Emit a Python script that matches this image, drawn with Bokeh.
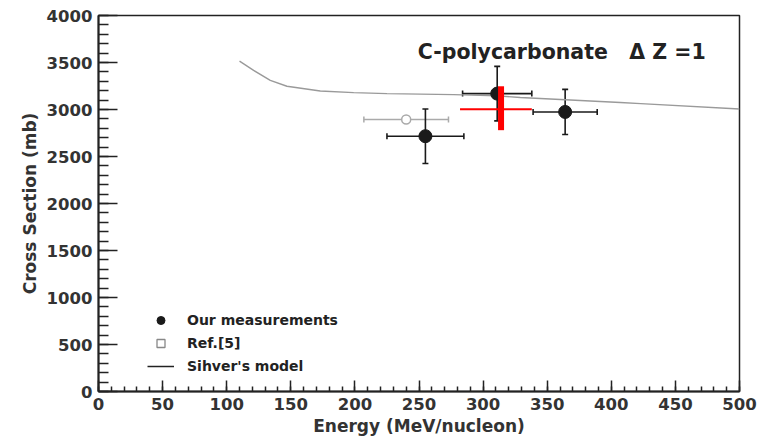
from bokeh.plotting import figure
from bokeh.models import (ColumnDataSource, Whisker, TeeHead, SingleIntervalTicker,
                          Legend, LegendItem, Label, Range1d)
from bokeh.embed import file_html
from bokeh.resources import INLINE

# ---- data ----
our_energy = [255, 311, 364]
our_cs = [2716, 3169, 2974]
our_xerr = [30, 27, 25]
our_yerr = [290, 290, 240]

ref_energy = [240]
ref_cs = [2893]
ref_xerr = [33]
ref_yerr = [40]

red_energy = [310]
red_cs = [3003]
red_xerr = [28]
red_vert_energy = [314]
red_vert_lo = [2780]
red_vert_hi = [3247]

model_energy = [110, 121, 134, 147, 173, 199, 225, 277, 311, 329, 407, 423, 500]
model_cs = [3515, 3416, 3310, 3247, 3197, 3180, 3169, 3158, 3145, 3127, 3074, 3063, 3005]

x_ticks_interval = 50
y_ticks_interval = 500

FONT = "DejaVu Sans"

p = figure(width=767, height=438, x_range=(0, 500), y_range=(0, 4000),
           output_backend="svg", toolbar_location=None,
           min_border_left=98, min_border_right=28, min_border_top=15, min_border_bottom=46)
p.background_fill_color = "white"
p.border_fill_color = "white"
p.outline_line_color = "#222222"
p.outline_line_width = 1.5
p.xgrid.visible = False
p.ygrid.visible = False
# a range that shows nothing, used only by the legend proxy glyphs
p.extra_y_ranges = {"hidden": Range1d(-2, -1)}

# axes
p.xaxis.ticker = SingleIntervalTicker(interval=x_ticks_interval, num_minor_ticks=5)
p.yaxis.ticker = SingleIntervalTicker(interval=y_ticks_interval, num_minor_ticks=5)
for ax in (p.xaxis, p.yaxis):
    ax.axis_line_color = "#222222"
    ax.axis_line_width = 2
    ax.major_tick_line_color = "#222222"
    ax.minor_tick_line_color = "#222222"
    ax.major_tick_line_width = 1.5
    ax.minor_tick_line_width = 1.5
    ax.major_tick_out = 0
    ax.minor_tick_out = 0
    ax.major_label_text_font = FONT
    ax.major_label_text_font_style = "bold"
    ax.major_label_text_font_size = "16.5px"
    ax.major_label_text_color = "#333333"
    ax.axis_label_text_font = FONT
    ax.axis_label_text_font_style = "bold"
    ax.axis_label_text_font_size = "17px"
    ax.axis_label_text_color = "#333333"
p.xaxis.major_tick_in = 11
p.xaxis.minor_tick_in = 5
p.yaxis.major_tick_in = 19
p.yaxis.minor_tick_in = 10
p.xaxis.major_label_standoff = 6
p.yaxis.major_label_standoff = 6
p.xaxis.axis_label_standoff = 3
p.yaxis.axis_label_standoff = 4
p.xaxis.axis_label = "Energy (MeV/nucleon)"
p.yaxis.axis_label = "Cross Section (mb)"

# model curve
model_src = ColumnDataSource(dict(x=model_energy, y=model_cs))
model_r = p.line("x", "y", source=model_src, line_color="#9a9a9a", line_width=1.4)

# Ref.[5]
ref_src = ColumnDataSource(dict(
    x=ref_energy, y=ref_cs,
    xl=[a - b for a, b in zip(ref_energy, ref_xerr)],
    xu=[a + b for a, b in zip(ref_energy, ref_xerr)],
    yl=[a - b for a, b in zip(ref_cs, ref_yerr)],
    yu=[a + b for a, b in zip(ref_cs, ref_yerr)],
))
ref_col = "#aaaaaa"
p.add_layout(Whisker(base="y", lower="xl", upper="xu", dimension="width", source=ref_src,
                     line_color=ref_col, line_width=1.5,
                     upper_head=TeeHead(size=6, line_color=ref_col, line_width=1.5),
                     lower_head=TeeHead(size=6, line_color=ref_col, line_width=1.5)))
p.add_layout(Whisker(base="x", lower="yl", upper="yu", dimension="height", source=ref_src,
                     line_color=ref_col, line_width=1.5,
                     upper_head=TeeHead(size=5, line_color=ref_col, line_width=1.5),
                     lower_head=TeeHead(size=5, line_color=ref_col, line_width=1.5)))
p.scatter("x", "y", source=ref_src, marker="circle", size=9, fill_color="white",
          line_color=ref_col, line_width=1.5)

# our measurements
our_src = ColumnDataSource(dict(
    x=our_energy, y=our_cs,
    xl=[a - b for a, b in zip(our_energy, our_xerr)],
    xu=[a + b for a, b in zip(our_energy, our_xerr)],
    yl=[a - b for a, b in zip(our_cs, our_yerr)],
    yu=[a + b for a, b in zip(our_cs, our_yerr)],
))
blk = "#1a1a1a"
for dim, base, lo, hi in (("width", "y", "xl", "xu"), ("height", "x", "yl", "yu")):
    p.add_layout(Whisker(base=base, lower=lo, upper=hi, dimension=dim, source=our_src,
                         line_color=blk, line_width=1.6,
                         upper_head=TeeHead(size=6, line_color=blk, line_width=1.6),
                         lower_head=TeeHead(size=6, line_color=blk, line_width=1.6)))
our_r = p.scatter("x", "y", source=our_src, marker="circle", size=13, fill_color=blk,
                  line_color=blk)

# red measurement (drawn on top)
red_src = ColumnDataSource(dict(
    x=red_energy, y=red_cs,
    xl=[a - b for a, b in zip(red_energy, red_xerr)],
    xu=[a + b for a, b in zip(red_energy, red_xerr)],
))
p.segment(x0="xl", x1="xu", y0="y", y1="y", source=red_src, line_color="red", line_width=2,
          level="overlay")
red_v_src = ColumnDataSource(dict(x=red_vert_energy, y0=red_vert_lo, y1=red_vert_hi))
p.segment(x0="x", x1="x", y0="y0", y1="y1", source=red_v_src, line_color="red", line_width=6,
          level="overlay")

# legend proxies: same data, mapped onto a range that shows nothing
leg_circle = p.scatter("x", "y", source=our_src, y_range_name="hidden", marker="circle",
                       size=12, fill_color=blk, line_color=blk)
leg_square = p.scatter("x", "y", source=ref_src, y_range_name="hidden", marker="square",
                       size=8, fill_color="white", line_color="#888888", line_width=1.3)
leg_line = p.line("x", "y", source=model_src, y_range_name="hidden", line_color="#222222",
                  line_width=1.5)

legend = Legend(items=[
    LegendItem(label="Our measurements", renderers=[leg_circle]),
    LegendItem(label="Ref.[5]", renderers=[leg_square]),
    LegendItem(label="Sihver's model", renderers=[leg_line]),
], location=(49, 15))
legend.border_line_color = None
legend.background_fill_alpha = 0
legend.padding = 0
legend.margin = 0
legend.spacing = 3
legend.glyph_width = 27
legend.glyph_height = 20
legend.label_height = 20
legend.label_standoff = 13
legend.label_text_font = FONT
legend.label_text_font_style = "bold"
legend.label_text_font_size = "14px"
legend.label_text_color = "#222222"
p.add_layout(legend)

title = Label(x=249, y=3607, text="C-polycarbonate\u00a0\u00a0\u00a0\u0394\u00a0Z\u00a0=1",
              text_font=FONT, text_font_style="bold", text_font_size="20.5px",
              text_color="#222222", text_baseline="alphabetic")
p.add_layout(title)

open("out.html", "w").write(file_html(p, INLINE))
